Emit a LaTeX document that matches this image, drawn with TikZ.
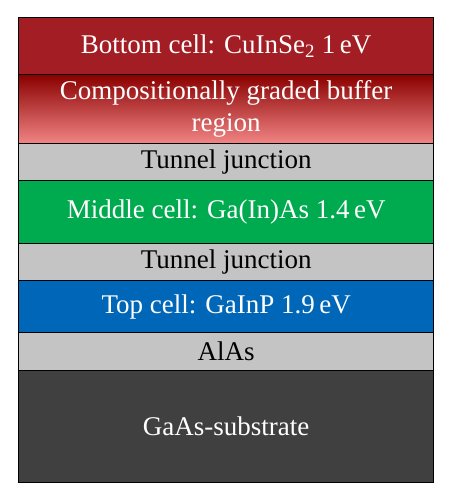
\documentclass[tikz,border=0pt]{standalone}
\usepackage{fontspec}
\setmainfont{Liberation Serif}
\definecolor{cellred}{HTML}{A21E24}
\definecolor{gradtop}{HTML}{8A0000}
\definecolor{gradbot}{HTML}{F28585}
\definecolor{tjgray}{HTML}{C4C4C4}
\definecolor{cellgreen}{HTML}{00AA4F}
\definecolor{cellblue}{HTML}{0067B8}
\definecolor{subgray}{HTML}{404040}
\tikzset{
  layer/.style={draw=black, line width=1.3pt, minimum width=415pt, inner sep=0pt, anchor=north west,
    font=\fontsize{27}{32}\selectfont, align=center},
  lightlayer/.style={layer, fill=tjgray, text=black},
  darklayer/.style={layer, text=white}
}
\begin{document}
\begin{tikzpicture}[x=1pt,y=-1pt]
\useasboundingbox (0,0) rectangle (451,500);
\node[darklayer, fill=cellred, minimum height=57pt] (bottom) at (18,17) {Bottom cell: CuInSe\textsubscript{2} 1\,eV};
\node[darklayer, top color=gradtop, bottom color=gradbot, minimum height=69pt] (buffer) at (18,74) {Compositionally graded buffer\\region};
\node[lightlayer, minimum height=37pt] (tj1) at (18,143) {Tunnel junction};
\node[darklayer, fill=cellgreen, minimum height=63pt] (middle) at (18,180) {Middle cell: Ga(In)As 1.4\,eV};
\node[lightlayer, minimum height=37pt] (tj2) at (18,243) {Tunnel junction};
\node[darklayer, fill=cellblue, minimum height=52pt] (top) at (18,280) {Top cell: GaInP 1.9\,eV};
\node[lightlayer, minimum height=38pt] (alas) at (18,332) {AlAs};
\node[darklayer, fill=subgray, minimum height=112pt] (sub) at (18,370) {GaAs-substrate};
\end{tikzpicture}
\end{document}
